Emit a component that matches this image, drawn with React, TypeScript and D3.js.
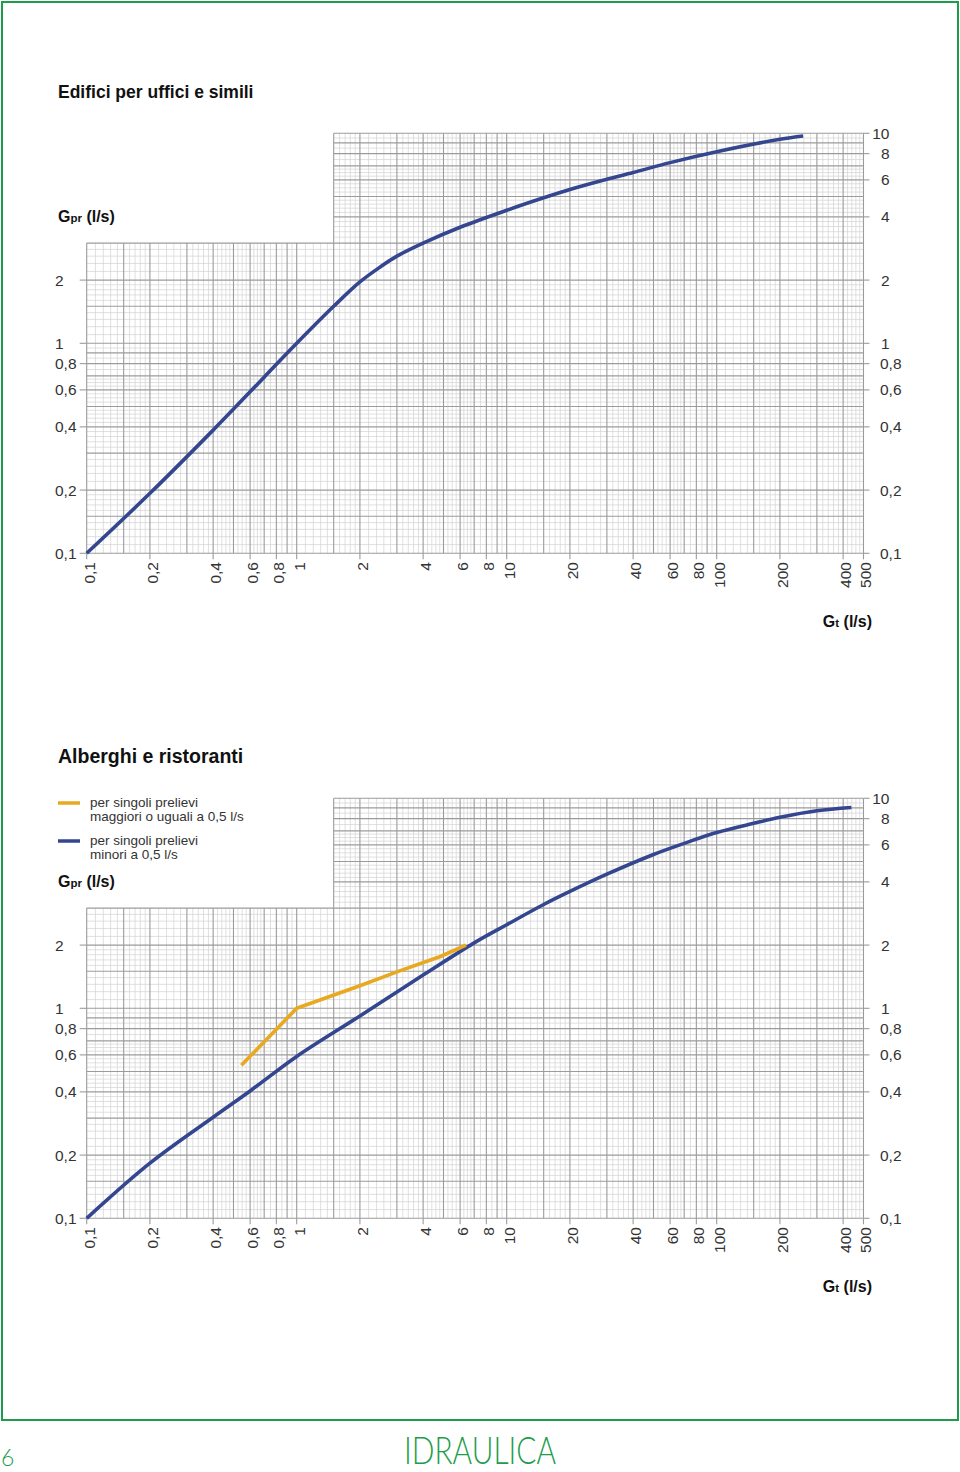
import React from "react";
import * as d3 from "d3";

// ---------- DATA ----------
const xTickValues = [0.1, 0.2, 0.4, 0.6, 0.8, 1, 2, 4, 6, 8, 10, 20, 40, 60, 80, 100, 200, 400, 500];
const yLeftTickValues = [0.1, 0.2, 0.4, 0.6, 0.8, 1, 2];
const yRightTickValues = [0.1, 0.2, 0.4, 0.6, 0.8, 1, 2, 4, 6, 8, 10];

// Chart 1: Edifici per uffici e simili
const officeGt = [0.1, 0.2, 0.4, 0.7, 1, 1.5, 2, 2.5, 3, 4, 6, 10, 15, 20, 30, 40, 60, 100, 200, 258];
const officeGpr = [0.1, 0.193, 0.386, 0.69, 1, 1.5, 1.96, 2.31, 2.6, 3.0, 3.57, 4.3, 4.93, 5.4, 6.04, 6.5, 7.25, 8.17, 9.36, 9.7];

// Chart 2: Alberghi e ristoranti — blue (prelievi < 0,5 l/s)
const hotelBlueGt = [0.1, 0.2, 0.4, 0.6, 1, 2, 4, 7, 10, 15, 20, 30, 50, 70, 100, 150, 200, 300, 438];
const hotelBlueGpr = [0.1, 0.183, 0.303, 0.404, 0.59, 0.92, 1.44, 2.05, 2.5, 3.12, 3.6, 4.35, 5.4, 6.1, 6.87, 7.6, 8.12, 8.72, 9.04];

// Chart 2: yellow (prelievi >= 0,5 l/s)
const hotelYellowGt = [0.545, 1, 2, 3, 4.8, 6.4];
const hotelYellowGpr = [0.535, 1.0, 1.28, 1.49, 1.76, 2.0];

const legendLabels = [
  ["per singoli prelievi", "maggiori o uguali a 0,5 l/s"],
  ["per singoli prelievi", "minori a 0,5 l/s"],
];

// ---------- STYLE ----------
const BLUE = "#34468f";
const YELLOW = "#e8a820";
const GREEN = "#1c9c4c";
const MAJOR = "#9b9b9b";
const MINOR = "#d2d2d2";
const TEXT = "#333";
const FONT = "'Liberation Sans', Arial, Helvetica, sans-serif";

const X0 = 86.7;
const DEC = 210;
const fmt = (v: number) => String(v).replace(".", ",");

function majorsFor(lo: number, hi: number): number[] {
  const out: number[] = [];
  for (let e = Math.floor(Math.log10(lo)); e <= Math.ceil(Math.log10(hi)); e++) {
    const p = Math.pow(10, e);
    for (const m of [1, 1.5, 2, 3, 4, 5, 6, 7, 8, 9]) {
      const v = +(m * p).toPrecision(6);
      if (v >= lo - 1e-9 && v <= hi + 1e-9) out.push(v);
    }
  }
  return out;
}
function minorsFor(lo: number, hi: number): number[] {
  const out: number[] = [];
  for (let e = Math.floor(Math.log10(lo)); e <= Math.ceil(Math.log10(hi)); e++) {
    const p = Math.pow(10, e);
    const ms: number[] = [];
    for (let m = 1.1; m < 1.999; m += 0.1) ms.push(m);
    for (let m = 2.2; m < 4.999; m += 0.2) ms.push(m);
    for (let m = 5.25; m < 6.999; m += 0.25) ms.push(m);
    for (let m = 7.5; m < 9.999; m += 0.5) ms.push(m);
    for (const m of ms) {
      const r = Math.round(m * 100) / 100;
      if ([1.5, 3, 4, 6].includes(r) || Math.abs(r - Math.round(r)) < 1e-6) continue;
      const v = +(r * p).toPrecision(6);
      if (v > lo && v < hi) out.push(v);
    }
  }
  return out;
}

type Series = { gt: number[]; gpr: number[]; color: string; smooth: boolean };

function Chart({ oy, title, titleSize, series, legend }: { oy: number; title: string; titleSize: number; series: Series[]; legend: boolean }) {
  const x = d3.scaleLog().domain([0.1, 500]).range([X0, X0 + DEC * Math.log10(5000)]);
  const y = d3.scaleLog().domain([0.1, 10]).range([oy + 553.3, oy + 133.3]);
  const xSplit = 1.5;
  const ySplit = 3;

  const vMinor = minorsFor(0.1, 500);
  const hMinor = minorsFor(0.1, 10);
  const vMajor = majorsFor(0.1, 500);
  const hMajor = majorsFor(0.1, 10);

  const vLine = (v: number, key: string, stroke: string, w: number) => (
    <line key={key} x1={x(v)} x2={x(v)} y1={y(0.1)} y2={v >= xSplit - 1e-9 ? y(10) : y(ySplit)} stroke={stroke} strokeWidth={w} />
  );
  const hLine = (v: number, key: string, stroke: string, w: number) => (
    <line key={key} y1={y(v)} y2={y(v)} x1={v > ySplit + 1e-9 ? x(xSplit) : x(0.1)} x2={x(500)} stroke={stroke} strokeWidth={w} />
  );

  return (
    <g>
      <text x={58} y={oy + 98} fontFamily={FONT} fontWeight="bold" fontSize={titleSize} fill="#111">
        {title}
      </text>
      {/* grid */}
      <g>
        {vMinor.map((v, i) => vLine(v, "vm" + i, MINOR, 0.7))}
        {hMinor.map((v, i) => hLine(v, "hm" + i, MINOR, 0.7))}
        {vMajor.map((v, i) => vLine(v, "vM" + i, MAJOR, 1.1))}
        {hMajor.map((v, i) => hLine(v, "hM" + i, MAJOR, 1.1))}
      </g>
      {/* ticks */}
      {yLeftTickValues.map((v, i) => (
        <g key={"yl" + i}>
          <line x1={x(0.1) - 7} x2={x(0.1)} y1={y(v)} y2={y(v)} stroke={MAJOR} strokeWidth={1.1} />
          <text x={55} y={y(v)} dy="0.36em" fontFamily={FONT} fontSize={15.5} fill={TEXT}>
            {fmt(v)}
          </text>
        </g>
      ))}
      {yRightTickValues.map((v, i) => (
        <g key={"yr" + i}>
          <line x1={x(500)} x2={x(500) + 6} y1={y(v)} y2={y(v)} stroke={MAJOR} strokeWidth={1.1} />
          <text
            x={v >= 1 ? 889.5 : 880}
            y={y(v)}
            dy="0.36em"
            textAnchor={v >= 1 ? "end" : "start"}
            fontFamily={FONT}
            fontSize={15.5}
            fill={TEXT}
          >
            {fmt(v)}
          </text>
        </g>
      ))}
      {xTickValues.map((v, i) => (
        <g key={"xt" + i}>
          <line x1={x(v)} x2={x(v)} y1={y(0.1)} y2={y(0.1) + 6} stroke={MAJOR} strokeWidth={1.1} />
          <text
            transform={`translate(${x(v)},${oy + 562}) rotate(-90)`}
            dy={8}
            textAnchor="end"
            fontFamily={FONT}
            fontSize={15.5}
            fill={TEXT}
          >
            {fmt(v)}
          </text>
        </g>
      ))}
      {/* axis titles */}
      <text x={58} y={oy + 222} fontFamily={FONT} fontWeight="bold" fill="#111">
        <tspan fontSize={16}>G</tspan>
        <tspan fontSize={11.5}>pr</tspan>
        <tspan fontSize={16}> (l/s)</tspan>
      </text>
      <text x={872} y={oy + 627} textAnchor="end" fontFamily={FONT} fontWeight="bold" fill="#111">
        <tspan fontSize={16}>G</tspan>
        <tspan fontSize={11.5}>t</tspan>
        <tspan fontSize={16}> (l/s)</tspan>
      </text>
      {/* legend */}
      {legend && (
        <g fontFamily={FONT} fontSize={13.5} fill={TEXT}>
          <line x1={58} x2={80} y1={oy + 138} y2={oy + 138} stroke={YELLOW} strokeWidth={3.5} />
          <text x={90} y={oy + 142}>{legendLabels[0][0]}</text>
          <text x={90} y={oy + 155.5}>{legendLabels[0][1]}</text>
          <line x1={58} x2={80} y1={oy + 176} y2={oy + 176} stroke={BLUE} strokeWidth={3.5} />
          <text x={90} y={oy + 180}>{legendLabels[1][0]}</text>
          <text x={90} y={oy + 193.5}>{legendLabels[1][1]}</text>
        </g>
      )}
      {/* curves */}
      {series.map((s, k) => {
        const gen = d3
          .line<number>()
          .x((d) => x(d))
          .y((_, i) => y(s.gpr[i]))
          .curve(s.smooth ? d3.curveCatmullRom.alpha(0.5) : d3.curveLinear);
        return (
          <path
            key={"s" + k}
            d={gen(s.gt) || ""}
            fill="none"
            stroke={s.color}
            strokeWidth={3.6}
            strokeLinecap="butt"
            strokeLinejoin="round"
          />
        );
      })}
    </g>
  );
}

export default function App() {
  return (
    <svg
      width={960}
      height={1472}
      style={{ position: "absolute", left: 0, top: 0, background: "#fff" }}
    >
      <rect x={0} y={0} width={960} height={1472} fill="#fff" />
      <rect x={2} y={2} width={956} height={1418} fill="none" stroke={GREEN} strokeWidth={2} />
      <Chart
        oy={0}
        title="Edifici per uffici e simili"
        titleSize={17.5}
        series={[{ gt: officeGt, gpr: officeGpr, color: BLUE, smooth: true }]}
        legend={false}
      />
      <Chart
        oy={665}
        title="Alberghi e ristoranti"
        titleSize={19.5}
        series={[
          { gt: hotelBlueGt, gpr: hotelBlueGpr, color: BLUE, smooth: true },
          { gt: hotelYellowGt, gpr: hotelYellowGpr, color: YELLOW, smooth: false },
        ]}
        legend={true}
      />
      <text x={1} y={1466} fontFamily="Lato, 'Open Sans', sans-serif" fontWeight={300} fontSize={23} fill={GREEN}>
        6
      </text>
      <text
        x={480}
        y={1464}
        textAnchor="middle"
        fontFamily="Lato, 'Open Sans', sans-serif"
        fontWeight={300}
        fontSize={37}
        textLength={152}
        lengthAdjust="spacingAndGlyphs"
        fill={GREEN}
      >
        IDRAULICA
      </text>
    </svg>
  );
}
